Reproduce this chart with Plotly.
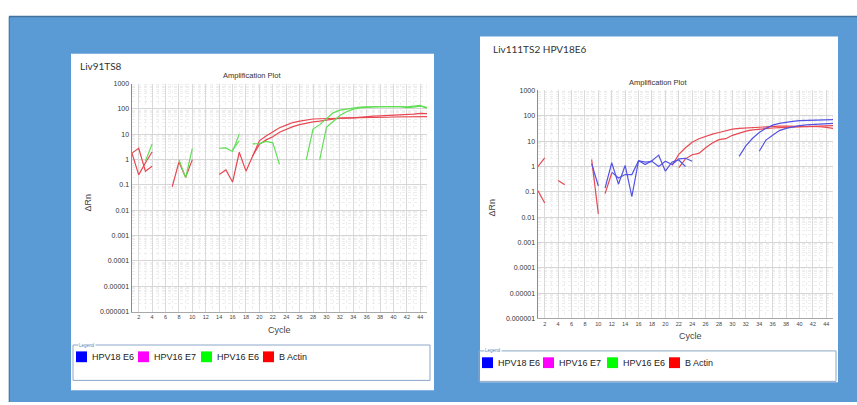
import plotly.graph_objects as go

N = None
cycles = list(range(1, 46))

# ---- Left panel (Liv91TS8) ----
left_actin_1 = [1.8, 2.8, 0.35, 0.55, N, N, 0.085, 0.8, 0.2, 1.0, N, N, N, 0.26, 0.39, 0.13, 1.95, 0.35, 1.4, 5.5,
                8.5, 12, 18, 23, 29, 33, 37, 40, 41, 41, 41, 42, 43, 44, 47, 50, 52, 53, 54, 56, 58, 60, 62, 67, 65]
left_actin_2 = [1.8, 0.25, 0.75, 2.0, N, N, N, N, N, N, N, N, N, N, N, N, N, N, 1.4, 4.0,
                6.0, 8.0, 12, 16, 20, 24, 28, 31, 33, 36, 40, 43, 44, 44, 45, 45, 46, 47, 47, 48, 48, 47, 49, 50, 50]
left_e6_1 = [N, N, 0.87, 4.1, N, N, N, 1.0, 0.19, 2.8, N, N, N, 2.8, 2.9, 2.1, 10, N, 4.2, 4.3,
             5.2, 4.6, 0.65, N, N, N, 1.0, 16, 24, 42, 70, 90, 100, 112, 118, 120, 122, 120, 122, 125, 122, 112, 118, 130, 115]
left_e6_2 = [N, N, N, N, N, N, N, N, N, N, N, N, N, N, N, 2.4, 5.5, N, N, N,
             N, N, N, N, N, N, N, N, 1.0, 19, 32, 55, 78, 98, 110, 118, 120, 122, 124, 126, 125, 120, 125, 138, 105]

# ---- Right panel (Liv111TS2 HPV18E6) ----
right_actin_1 = [1.0, 2.2, N, 0.28, 0.19, N, N, N, 1.9, 0.0135, N, N, N, N, N, N, N, N, N, N,
                 1.1, 3.0, 5.5, 9, 12.5, 15.5, 19, 22, 26, 30, 32, 33, 35, 37, 38, 39, 39, 39, 39, 39, 39, 38, 37, 35, 32]
right_actin_2 = [0.11, 0.036, N, N, N, N, N, N, N, N, 0.085, 0.55, N, N, N, N, N, N, N, N,
                 N, 0.9, 2.0, 2.9, 3.3, 5.5, 8.5, 11.5, 12.5, 17, 21, 25, 28, 30, 31, 33, 34, 35, 36, 37, 37, 38, 39, 40, 41]
right_e6_1 = [N, N, N, N, N, N, N, N, N, N, 0.14, 1.4, 0.2, 1.1, 0.065, 1.7, 1.2, 1.7, 2.8, 0.65,
              1.5, 1.8, 1.0, N, N, N, N, N, N, N, 2.5, 6.5, 13, 22, 32, 43, 50, 56, 60, 64, 66, 68, 69, 70, 71]
right_e6_2 = [N, N, N, N, N, N, N, N, 1.3, 0.17, N, 0.6, 0.35, 0.48, 0.48, 1.7, 1.5, 1.6, 1.0, 1.6,
              1.2, 2.0, 2.1, 1.6, N, N, N, N, N, N, N, N, N, 4, 11, 17, 26, 32, 37, 41, 44, 46, 48, 49, 50]

y_tickvals = [1e-6, 1e-5, 1e-4, 1e-3, 1e-2, 1e-1, 1, 10, 100, 1000]
y_ticktext = ["0.000001", "0.00001", "0.0001", "0.001", "0.01", "0.1", "1", "10", "100", "1000"]
x_tickvals = list(range(2, 45, 2))

legend_names = ["HPV18 E6", "HPV16 E7", "HPV16 E6", "B Actin"]
legend_colors = ["#0000FF", "#FF00FF", "#00FF00", "#FF0000"]

RED = "rgb(232,72,82)"
GREEN = "rgb(96,222,84)"
BLUE = "rgb(84,84,228)"
PAGE_BLUE = "#5B9BD5"

W, H = 857, 405
def px(x): return x / W
def py(y): return 1 - y / H

fig = go.Figure()

def add(y, color, xa, ya):
    fig.add_trace(go.Scatter(x=cycles, y=y, mode="lines", line=dict(color=color, width=1.2),
                             connectgaps=False, showlegend=False, xaxis=xa, yaxis=ya, hoverinfo="skip"))

add(left_actin_1, RED, "x", "y")
add(left_actin_2, RED, "x", "y")
add(left_e6_1, GREEN, "x", "y")
add(left_e6_2, GREEN, "x", "y")
add(right_actin_1, RED, "x2", "y2")
add(right_actin_2, RED, "x2", "y2")
add(right_e6_1, BLUE, "x2", "y2")
add(right_e6_2, BLUE, "x2", "y2")

minor_y = [m * 10 ** k for k in range(-6, 3) for m in range(2, 10)]
tickfont = dict(family="Liberation Sans, Arial", size=7, color="#333333")

def xaxis_cfg(domain):
    return dict(domain=domain, range=[1, 45], tickvals=x_tickvals, ticks="",
                tickfont=dict(family="Liberation Sans, Arial", size=5.5, color="#444444"),
                showgrid=True, gridcolor="#DADADA", gridwidth=1, zeroline=False,
                showline=True, linecolor="#A8A8A8", linewidth=1, mirror=False,
                minor=dict(tickvals=list(range(1, 46)), showgrid=True, gridcolor="#EEEEEE", griddash="dot", gridwidth=1, ticks=""),
                fixedrange=True)

def yaxis_cfg(domain, anchor):
    return dict(domain=domain, type="log", range=[-6, 3], tickvals=y_tickvals, ticktext=y_ticktext, ticks="",
                tickfont=tickfont, showgrid=True, gridcolor="#D6D6D6", gridwidth=1, zeroline=False,
                showline=True, linecolor="#8C8C8C", linewidth=1.5, anchor=anchor,
                minor=dict(tickvals=minor_y, showgrid=True, gridcolor="#EEEEEE", griddash="dot", gridwidth=1, ticks=""),
                fixedrange=True)

# left plot area: x 132..427, y 81..313 ; right: x 538..833, y 88..320
fig.update_layout(
    width=W, height=H, margin=dict(l=0, r=0, t=0, b=0),
    paper_bgcolor="white", plot_bgcolor="rgba(0,0,0,0)",
    xaxis=dict(xaxis_cfg([px(132), px(427)]), anchor="y"),
    yaxis=yaxis_cfg([py(313), py(81)], "x"),
    xaxis2=dict(xaxis_cfg([px(538), px(833)]), anchor="y2"),
    yaxis2=yaxis_cfg([py(320), py(88)], "x2"),
)

shapes = []
# blue background
shapes.append(dict(type="rect", xref="paper", yref="paper", x0=px(9), x1=1.0, y0=0.0, y1=py(12.5),
                   fillcolor=PAGE_BLUE, line=dict(width=0), layer="below"))
shapes.append(dict(type="line", xref="paper", yref="paper", x0=px(9), x1=1.0, y0=py(12.8), y1=py(12.8),
                   line=dict(color="#41719C", width=1.5), layer="below"))
shapes.append(dict(type="line", xref="paper", yref="paper", x0=px(9.2), x1=px(9.2), y0=0.0, y1=py(12.8),
                   line=dict(color="#41719C", width=1), layer="below"))
# white panels
shapes.append(dict(type="rect", xref="paper", yref="paper", x0=px(71), x1=px(434), y0=py(393), y1=py(50.5),
                   fillcolor="white", line=dict(width=0), layer="below"))
shapes.append(dict(type="rect", xref="paper", yref="paper", x0=px(480), x1=px(838), y0=py(385), y1=py(33),
                   fillcolor="white", line=dict(width=0), layer="below"))
# legend frames
for (x0, x1, y0, y1) in [(73, 430, 347, 383), (479, 836, 353, 384)]:
    shapes.append(dict(type="rect", xref="paper", yref="paper", x0=px(x0), x1=px(x1), y0=py(y1), y1=py(y0),
                       fillcolor="rgba(0,0,0,0)", line=dict(color="#8AA6C8", width=1), layer="below"))

annotations = []
def text(x, y, s, size, color="#222222", xanchor="center", family="Liberation Sans, Arial", angle=0, bg=None):
    a = dict(x=px(x), y=py(y), xref="paper", yref="paper", text=s, showarrow=False, xanchor=xanchor, yanchor="middle",
             font=dict(family=family, size=size, color=color), textangle=angle)
    if bg:
        a["bgcolor"] = bg
        a["borderpad"] = 0
    annotations.append(a)

# Left panel texts
text(78, 63, "Liv91TS8", 10, "#333333", "left", "Lato, Liberation Sans")
text(252, 73, "Amplification Plot", 7.5, "#333333")
text(279, 332, "Cycle", 9, "#444444")
text(88, 202, "ΔRn", 9, "#444444", angle=-90)
# Right panel texts
text(491, 46, "Liv111TS2 HPV18E6", 10, "#333333", "left", "Lato, Liberation Sans")
text(658, 80, "Amplification Plot", 7.5, "#333333")
text(690, 338, "Cycle", 9, "#444444")
text(492, 207, "ΔRn", 9, "#444444", angle=-90)

# legends
def legend(x_squares, y, frame_x, frame_y):
    text(frame_x, frame_y, "Legend", 4.5, "#5A7FB0", "left", bg="white")
    for xs, name, col in zip(x_squares, legend_names, legend_colors):
        shapes.append(dict(type="rect", xref="paper", yref="paper", x0=px(xs), x1=px(xs + 11), y0=py(y + 5.5), y1=py(y - 5.5),
                           fillcolor=col, line=dict(width=0)))
        text(xs + 14, y, name, 9, "#222222", "left")

legend([76, 138, 201, 263], 359, 78, 347)
legend([482, 543, 607, 669], 365, 484, 353)

fig.update_layout(shapes=shapes, annotations=annotations)
fig.write_html("out.html", config={"displayModeBar": False, "staticPlot": True},
               post_script="document.documentElement.style.overflow='hidden';"
                           "document.documentElement.style.background='" + PAGE_BLUE + "';"
                           "document.body.style.margin='0';document.body.style.overflow='hidden';"
                           "document.body.style.background='" + PAGE_BLUE + "';")
